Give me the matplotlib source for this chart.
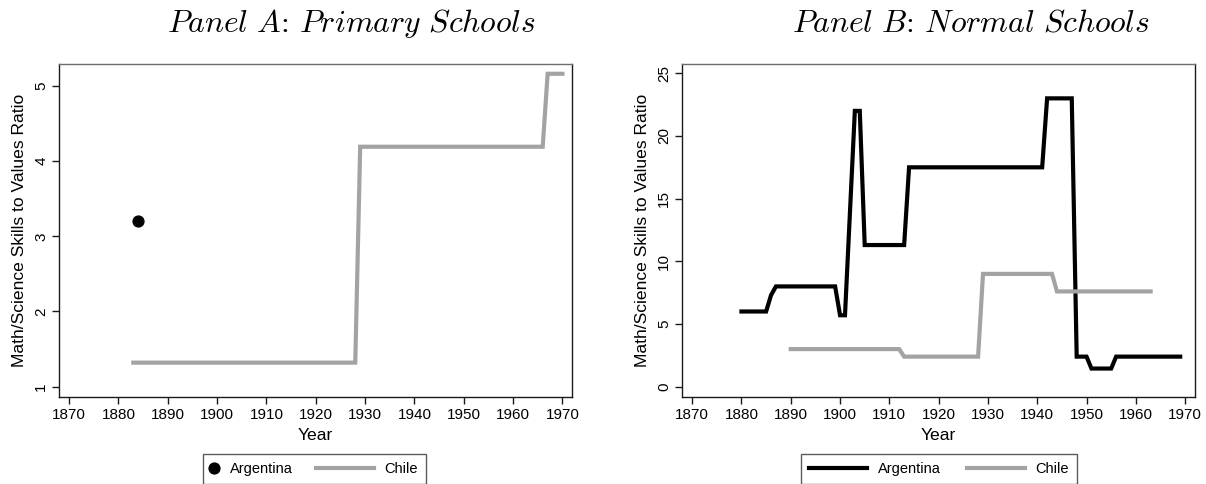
import numpy as np
import matplotlib
matplotlib.use("Agg")
import matplotlib.pyplot as plt
from matplotlib.lines import Line2D
from matplotlib.legend_handler import HandlerLine2D

plt.rcParams["font.family"] = ["Liberation Sans", "DejaVu Sans"]
plt.rcParams["mathtext.fontset"] = "cm"

# Panel A: primary schools
a_arg_years = [1884]
a_arg_vals = [3.20]
a_chl_years = [1883, 1928, 1929, 1966, 1967, 1970]
a_chl_vals = [1.32, 1.32, 4.19, 4.19, 5.16, 5.16]

# Panel B: normal schools
b_arg_years = [1880, 1885, 1886, 1887, 1899, 1900, 1901, 1903, 1904, 1905,
               1913, 1914, 1941, 1942, 1947, 1948, 1950, 1951, 1955, 1956, 1969]
b_arg_vals = [6.0, 6.0, 7.3, 8.0, 8.0, 5.7, 5.7, 22.0, 22.0, 11.3,
              11.3, 17.5, 17.5, 23.0, 23.0, 2.4, 2.4, 1.45, 1.45, 2.4, 2.4]
b_chl_years = [1890, 1912, 1913, 1928, 1929, 1943, 1944, 1963]
b_chl_vals = [3.0, 3.0, 2.4, 2.4, 9.0, 9.0, 7.6, 7.6]

x_ticks = list(range(1870, 1971, 10))
a_y_ticks = [1, 2, 3, 4, 5]
b_y_ticks = [0, 5, 10, 15, 20, 25]
series_names = ["Argentina", "Chile"]

GRAY = "#a3a3a3"
FRAME = "#1a1a1a"
W, H = 1206, 484

fig = plt.figure(figsize=(W / 100, H / 100), dpi=100)
ax_a = fig.add_axes([59.3 / W, 1 - 397 / H, 513 / W, 333 / H])
ax_b = fig.add_axes([682.3 / W, 1 - 397 / H, 512.7 / W, 333 / H])


def style_axes(ax, yticks, ylim):
    ax.set_xlim(1868, 1972)
    ax.set_ylim(*ylim)
    ax.set_xticks(x_ticks)
    ax.set_yticks(yticks)
    ax.tick_params(axis="both", direction="out", length=5, width=1,
                   color=FRAME, labelsize=11, pad=3)
    for lab in ax.get_yticklabels():
        lab.set_rotation(90)
        lab.set_va("center")
    for sp in ax.spines.values():
        sp.set_color(FRAME)
        sp.set_linewidth(1.0)
    ax.spines["top"].set_color("#6e6e6e")
    ax.set_xlabel("Year", fontsize=12.6)
    ax.set_ylabel("Math/Science Skills to Values Ratio", fontsize=12.6)
    ax.xaxis.set_label_coords(0.5, -38 / 333)
    ax.yaxis.set_label_coords(-40 / 513, 0.5)
    ax.xaxis.label.set_va("center")
    ax.yaxis.label.set_va("center")


# Panel A
ax_a.plot(a_chl_years, a_chl_vals, color=GRAY, lw=3, solid_joinstyle="miter")
ax_a.plot(a_arg_years, a_arg_vals, "o", color="black", ms=7.8)
style_axes(ax_a, a_y_ticks, (0.863, 5.29))

# Panel B
ax_b.plot(b_arg_years, b_arg_vals, color="black", lw=3, solid_joinstyle="miter")
ax_b.plot(b_chl_years, b_chl_vals, color=GRAY, lw=3, solid_joinstyle="miter")
style_axes(ax_b, b_y_ticks, (-0.82, 25.74))

# Titles
fig.text(351 / W, 1 - 24 / H, r"$\mathit{Panel\ A}$: $\mathit{Primary\ Schools}$",
         ha="center", va="center", fontsize=22.8, family="cmr10")
fig.text(971 / W, 1 - 24 / H, r"$\mathit{Panel\ B}$: $\mathit{Normal\ Schools}$",
         ha="center", va="center", fontsize=22.8, family="cmr10")


class LongLineHandler(HandlerLine2D):
    # line key that reaches back to the left of a narrow handle box
    def get_xdata(self, legend, xdescent, ydescent, width, height, fontsize):
        xd, xm = super().get_xdata(legend, xdescent, ydescent, width, height, fontsize)
        return np.array([width + 1.5 - 4.0 * fontsize, width + 1.5]), xm


# Legends
leg_frame = dict(frameon=True, fancybox=False, fontsize=10.5, ncol=2,
                 loc="upper left", bbox_transform=fig.transFigure,
                 borderaxespad=0, borderpad=0.55)

h_a = [Line2D([], [], marker="o", color="black", ls="none", ms=7.8),
       Line2D([], [], color=GRAY, lw=3)]
leg_a = ax_a.legend(h_a, series_names, bbox_to_anchor=(203 / W, 1 - 454 / H),
                    handlelength=0.45, handletextpad=0.85, columnspacing=5.0,
                    handler_map={h_a[1]: LongLineHandler()}, **leg_frame)

h_b = [Line2D([], [], color="black", lw=3), Line2D([], [], color=GRAY, lw=3)]
leg_b = ax_b.legend(h_b, series_names, bbox_to_anchor=(801 / W, 1 - 454 / H),
                    handlelength=4.0, handletextpad=0.7, columnspacing=1.8,
                    **leg_frame)
for leg in (leg_a, leg_b):
    leg.get_frame().set_edgecolor("#333333")
    leg.get_frame().set_linewidth(1.0)

fig.savefig("out.png", dpi=100)
